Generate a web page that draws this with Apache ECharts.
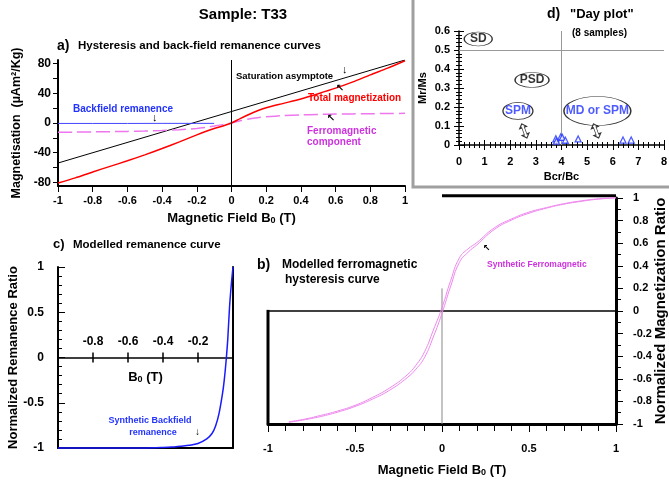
<!DOCTYPE html>
<html>
<head>
<meta charset="utf-8">
<script src="https://cdn.jsdelivr.net/npm/echarts@6/dist/echarts.min.js"></script>
<style>
html,body{margin:0;padding:0;background:#fff;}
#chart{width:669px;height:485px;}
</style>
</head>
<body>
<div id="chart"></div>
<script>
// ---- a) hysteresis + back-field (uAm2/Kg vs T)
var aField = [-1,-0.9,-0.8,-0.7,-0.6,-0.5,-0.4,-0.3,-0.2,-0.15,-0.1,-0.05,0,0.05,0.1,0.15,0.2,0.3,0.4,0.5,0.6,0.7,0.8,0.9,1];
var aTotal = [-81,-74,-66,-58.5,-51,-43,-34.5,-25.5,-16,-11.5,-7.5,-4,0,6,11.5,16.5,20.5,26.5,32.5,39.5,47,55.5,65,74,84];
var aFerro = [-12.5,-12.3,-12,-11.7,-11.3,-10.8,-10.1,-9.1,-7.3,-5.9,-4.2,-2.2,0,3,5.4,7.2,8.4,9.9,10.9,11.5,12,12.3,12.5,12.8,13];
var aAsymField = [-1, 1];
var aAsym = [-54, 85];
var aBackField = [-1,-0.8,-0.6,-0.4,-0.2,-0.1];
var aBack = [-0.6,-0.6,-0.6,-0.5,-0.5,-0.5];
var aYTicks = [-80,-60,-40,-20,0,20,40,60,80];
var aYLabels = [-80,-40,0,40,80];

// ---- d) Day plot
var dBcrBc = [3.78,3.8,3.97,4.03,4.15,4.65,6.4,6.72];
var dMrMs  = [0.033,0.02,0.042,0.04,0.025,0.032,0.026,0.026];
var dZones = ['SD','PSD','SPM','MD or SPM'];
var dZoneX = [0.75,2.85,2.3,5.4];
var dZoneY = [0.558,0.342,0.179,0.179];
var dArrowX = [2.55,5.35];
var dArrowY = [0.074,0.074];

// ---- c) modelled remanence
var cField = [-1,-0.8,-0.6,-0.5,-0.4,-0.35,-0.3,-0.25,-0.2,-0.15,-0.12,-0.1,-0.08,-0.06,-0.05,-0.04,-0.03,-0.02,-0.01,0];
var cRem   = [-1,-1,-1,-1,-0.995,-0.99,-0.98,-0.97,-0.95,-0.9,-0.84,-0.76,-0.62,-0.4,-0.25,-0.05,0.2,0.55,0.8,1];
var cXTicks = [-0.8,-0.6,-0.4,-0.2];

// ---- b) modelled ferromagnetic hysteresis
var bField = [-0.88,-0.8,-0.7,-0.6,-0.5,-0.4,-0.3,-0.2,-0.15,-0.1,-0.05,0,0.05,0.1,0.15,0.2,0.3,0.4,0.5,0.6,0.7,0.8,0.9,1];
var bLower = [-0.985,-0.965,-0.935,-0.895,-0.845,-0.78,-0.7,-0.59,-0.515,-0.41,-0.23,-0.02,0.22,0.43,0.52,0.585,0.72,0.805,0.865,0.91,0.945,0.97,0.99,1];
var bUpper = [-0.98,-0.96,-0.925,-0.885,-0.835,-0.765,-0.68,-0.565,-0.48,-0.36,-0.17,0.03,0.27,0.47,0.55,0.605,0.735,0.815,0.875,0.915,0.95,0.975,0.993,1.003];

var FONT = 'Liberation Sans, Arial, DejaVu Sans, sans-serif';
var MAG = '#cc33dd';

function pairs(xs, ys){ return xs.map(function(x,i){ return [x, ys[i]]; }); }
function txt(x, y, s, size, color, align){
  return {type:'text', x:x, y:y, silent:true, z:50,
    style:{text:s, fontSize:size, fontWeight:'bold', fontFamily:FONT, fill:color||'#000',
      align:align||'left', verticalAlign:'middle'}};
}
var lab = {fontSize:11, fontWeight:'bold', color:'#000', fontFamily:FONT};
var subRich = {sub:{fontSize:9, fontWeight:'bold', fontFamily:FONT, color:'#000', padding:[5,0,0,0]}};
function line(w){ return {show:true, onZero:false, lineStyle:{color:'#000', width:w}}; }
var off = {show:false};

// rotated name of the right axis in panel b (drawn as text so it can run off the edge)
var bYName = txt(661, 311, 'Normalized Magnetization Ratio', 15, '#000', 'center');
bYName.rotation = Math.PI / 2;

var myChart = echarts.init(document.getElementById('chart'));
myChart.setOption({
  animation:false,
  textStyle:{fontFamily:FONT},
  grid:[
    {left:58, top:60, width:347, height:126, outerBoundsMode:'none'},   // a
    {left:459, top:31, width:205, height:114, outerBoundsMode:'none'},  // d
    {left:58, top:267, width:175, height:181, outerBoundsMode:'none'},  // c
    {left:268, top:198, width:348, height:226, outerBoundsMode:'none'}  // b
  ],
  xAxis:[
    // 0: a
    {gridIndex:0, type:'value', min:-1, max:1, interval:0.2, position:'bottom',
     axisLine:line(2), axisTick:{show:true, length:6, lineStyle:{color:'#000'}},
     axisLabel:Object.assign({margin:9}, lab), splitLine:off,
     name:'Magnetic Field B{sub|0} (T)', nameLocation:'middle', nameGap:25,
     nameTextStyle:{fontSize:13, fontWeight:'bold', color:'#000', rich:subRich}},
    // 1: d (outside ticks + labels)
    {gridIndex:1, type:'value', min:0, max:8, interval:1, position:'bottom',
     axisLine:line(1.5), axisTick:{length:5, lineStyle:{color:'#000'}},
     minorTick:{show:true, splitNumber:5, length:3, lineStyle:{color:'#000'}},
     axisLabel:Object.assign({margin:11}, lab), splitLine:off, minorSplitLine:off,
     name:'Bcr/Bc', nameLocation:'middle', nameGap:26,
     nameTextStyle:{fontSize:11, fontWeight:'bold', color:'#000'}},
    // 2: d (inside ticks)
    {gridIndex:1, type:'value', min:0, max:8, interval:1, position:'bottom',
     axisLine:{show:false, onZero:false}, axisTick:{inside:true, length:5, lineStyle:{color:'#000'}},
     minorTick:{show:true, splitNumber:5, length:3, lineStyle:{color:'#000'}},
     axisLabel:off, splitLine:off},
    // 3: c (labels above the zero line) - top axis shifted down to y = 0
    {gridIndex:2, type:'value', min:-1, max:0, position:'top', offset:-90.5,
     axisLine:line(1.5),
     axisTick:{length:5, customValues:cXTicks, lineStyle:{color:'#000', width:1.5}},
     axisLabel:Object.assign({margin:10, customValues:cXTicks}, lab, {fontSize:12}),
     splitLine:off},
    // 4: c (ticks below the zero line) - bottom axis shifted up to y = 0
    {gridIndex:2, type:'value', min:-1, max:0, position:'bottom', offset:-90.5,
     axisLine:{show:false, onZero:false},
     axisTick:{length:5, customValues:cXTicks, lineStyle:{color:'#000', width:1.5}},
     axisLabel:off, splitLine:off,
     name:'B{sub|0} (T)', nameLocation:'middle', nameGap:13,
     nameTextStyle:{fontSize:13, fontWeight:'bold', color:'#000', rich:subRich}},
    // 5: c bottom frame
    {gridIndex:2, type:'value', min:-1, max:0, position:'bottom',
     axisLine:line(2), axisTick:off, axisLabel:off, splitLine:off},
    // 6: b
    {gridIndex:3, type:'value', min:-1, max:1, interval:0.5, position:'bottom',
     axisLine:line(3), axisTick:{length:8, lineStyle:{color:'#000'}},
     minorTick:{show:true, splitNumber:5, length:7, lineStyle:{color:'#000'}},
     axisLabel:Object.assign({margin:19}, lab), splitLine:off, minorSplitLine:off,
     name:'Magnetic Field B{sub|0} (T)', nameLocation:'middle', nameGap:39,
     nameTextStyle:{fontSize:13, fontWeight:'bold', color:'#000', rich:subRich}}
  ],
  yAxis:[
    // 0: a
    {gridIndex:0, type:'value', min:-85, max:85, position:'left',
     axisLine:line(2),
     axisTick:{length:5, customValues:aYTicks, lineStyle:{color:'#000'}},
     axisLabel:Object.assign({margin:7, customValues:aYLabels}, lab, {fontSize:12}),
     splitLine:off,
     name:'Magnetisation  (\u00b5Am\u00b2/Kg)', nameLocation:'middle', nameRotate:90, nameGap:26,
     nameTextStyle:{fontSize:12.5, fontWeight:'bold', color:'#000'}},
    // 1: d outside
    {gridIndex:1, type:'value', min:0, max:0.6, interval:0.1, position:'left',
     axisLine:line(1.5), axisTick:{length:5, lineStyle:{color:'#000'}},
     minorTick:{show:true, splitNumber:5, length:3, lineStyle:{color:'#000'}},
     axisLabel:Object.assign({margin:9}, lab), splitLine:off, minorSplitLine:off,
     name:'Mr/Ms', nameLocation:'middle', nameRotate:90, nameGap:31,
     nameTextStyle:{fontSize:11, fontWeight:'bold', color:'#000'}},
    // 2: d inside
    {gridIndex:1, type:'value', min:0, max:0.6, interval:0.1, position:'left',
     axisLine:{show:false, onZero:false}, axisTick:{inside:true, length:5, lineStyle:{color:'#000'}},
     minorTick:{show:true, splitNumber:5, length:3, lineStyle:{color:'#000'}},
     axisLabel:off, splitLine:off},
    // 3: c
    {gridIndex:2, type:'value', min:-1, max:1, interval:0.5, position:'left',
     axisLine:line(2), axisTick:{inside:true, length:7, lineStyle:{color:'#000'}},
     minorTick:{show:true, splitNumber:5, length:4, lineStyle:{color:'#000'}},
     axisLabel:Object.assign({margin:14}, lab, {fontSize:12}), splitLine:off, minorSplitLine:off,
     name:'Normalized Remanence Ratio', nameLocation:'middle', nameRotate:90, nameGap:34,
     nameTextStyle:{fontSize:13, fontWeight:'bold', color:'#000'}},
    // 4: c right frame
    {gridIndex:2, type:'value', min:-1, max:1, position:'right',
     axisLine:line(2), axisTick:off, axisLabel:off, splitLine:off},
    // 5: b (right)
    {gridIndex:3, type:'value', min:-1, max:1, interval:0.2, position:'right',
     axisLine:line(3), axisTick:{length:7, lineStyle:{color:'#000'}},
     minorTick:{show:true, splitNumber:2, length:5, lineStyle:{color:'#000'}},
     axisLabel:Object.assign({margin:17}, lab), splitLine:off, minorSplitLine:off}
  ],
  series:[
    // ---- a
    {type:'line', xAxisIndex:0, yAxisIndex:0, data:pairs(aAsymField, aAsym), symbol:'none',
     lineStyle:{color:'#000', width:1},
     markLine:{symbol:'none', silent:true, label:{show:false}, lineStyle:{color:'#000', width:1, type:'solid'},
       data:[{xAxis:0}]}},
    {type:'line', xAxisIndex:0, yAxisIndex:0, data:pairs(aBackField, aBack), symbol:'none',
     lineStyle:{color:'#4444ff', width:1}},
    {type:'line', xAxisIndex:0, yAxisIndex:0, data:pairs(aField, aFerro), symbol:'none', smooth:0.25,
     lineStyle:{color:'#ee77ee', width:1.5, type:[14,5]}},
    {type:'line', xAxisIndex:0, yAxisIndex:0, data:pairs(aField, aTotal), symbol:'none', smooth:0.25,
     lineStyle:{color:'#ff0000', width:1.5}},
    // ---- d
    {type:'scatter', xAxisIndex:1, yAxisIndex:1, data:pairs(dBcrBc, dMrMs), symbol:'triangle', symbolSize:6,
     itemStyle:{color:'#ffffff', borderColor:'#2233ff', borderWidth:1.3}, z:5,
     markLine:{symbol:'none', silent:true, label:{show:false}, lineStyle:{color:'#999', width:1, type:'solid'},
       data:[{yAxis:0.5},{xAxis:4}]}},
    {type:'scatter', xAxisIndex:1, yAxisIndex:1, silent:true, z:4,
     symbol:'path://M0,50 A50,50 0 1,1 100,50 A50,50 0 1,1 0,50 Z',
     itemStyle:{color:'#fff', borderColor:'#000', borderWidth:1},
     data:dZones.map(function(n,i){
       var sizes = [[28,14],[34,15],[30,17],[67,29]];
       var blue = i >= 2;
       return {name:n, value:[dZoneX[i], dZoneY[i]], symbolSize:sizes[i],
         label:{show:true, position:'inside', formatter:'{b}', fontSize:12, fontWeight:'bold',
           fontFamily:FONT, color:blue?'#2233ff':'#000'}};
     })},
    {type:'scatter', xAxisIndex:1, yAxisIndex:1, silent:true, z:4,
     symbol:'path://M4,0 L8,5 L5.5,5 L5.5,15 L8,15 L4,20 L0,15 L2.5,15 L2.5,5 L0,5 Z',
     symbolSize:[7,15], symbolRotate:20,
     itemStyle:{color:'#fff', borderColor:'#000', borderWidth:1},
     data:pairs(dArrowX, dArrowY)},
    // ---- c
    {type:'line', xAxisIndex:3, yAxisIndex:3, data:pairs(cField, cRem), symbol:'none', smooth:0.3,
     lineStyle:{color:'#1a1aff', width:1.5}, clip:false},
    // ---- b
    {type:'line', xAxisIndex:6, yAxisIndex:5, data:[[-1,0],[1,0]], symbol:'none', clip:false, silent:true,
     lineStyle:{color:'#000', width:1.5}},
    {type:'line', xAxisIndex:6, yAxisIndex:5, data:[[-1,0.01],[-1,-1]], symbol:'none', clip:false, silent:true,
     lineStyle:{color:'#000', width:3}},
    {type:'line', xAxisIndex:6, yAxisIndex:5, data:[[0,1.02],[1,1.02]], symbol:'none', clip:false, silent:true,
     lineStyle:{color:'#000', width:3}},
    {type:'line', xAxisIndex:6, yAxisIndex:5, data:[[0,0.2],[0,-1]], symbol:'none', clip:false, silent:true,
     lineStyle:{color:'#888', width:1}},
    {type:'line', xAxisIndex:6, yAxisIndex:5, data:pairs(bField, bLower), symbol:'none', smooth:true, clip:false,
     lineStyle:{color:'#ee88ee', width:1}},
    {type:'line', xAxisIndex:6, yAxisIndex:5, data:pairs(bField, bUpper), symbol:'none', smooth:true, clip:false,
     lineStyle:{color:'#ee88ee', width:1}}
  ],
  graphic:[
    bYName,
    {type:'polyline', silent:true, z:60, shape:{points:[[413,0],[413,187],[669,187]]},
     style:{stroke:'#a0a0a0', lineWidth:3, fill:null}},
    txt(243, 15, 'Sample: T33', 15, '#000', 'center'),
    txt(57, 46, 'a)', 14), txt(78, 46, 'Hysteresis and back-field remanence curves', 11.5),
    txt(236, 76, 'Saturation asymptote', 9.5),
    txt(342, 70, '\u2193', 11),
    txt(308, 98, 'Total magnetization', 10, '#ff0000'),
    txt(336, 88, '\u2196', 10),
    txt(73, 109, 'Backfield remanence', 10, '#2233ff'),
    txt(152, 118, '\u2193', 11),
    txt(307, 131, 'Ferromagnetic', 10, MAG),
    txt(307, 142, 'component', 10, MAG),
    txt(327, 118, '\u2196', 10),
    txt(547, 14, 'd)', 14), txt(570, 14, '"Day plot"', 13),
    txt(572, 33, '(8 samples)', 10),
    txt(53, 244, 'c)', 13), txt(73, 245, 'Modelled remanence curve', 11.5),
    txt(150, 421, 'Synthetic Backfield', 9, '#2233ff', 'center'),
    txt(153, 433, 'remanence', 9, '#2233ff', 'center'),
    txt(195, 432, '\u2193', 10),
    txt(257, 265, 'b)', 14), txt(282, 265, 'Modelled ferromagnetic', 12),
    txt(285, 280, 'hysteresis curve', 12),
    txt(487, 265, 'Synthetic Ferromagnetic', 8.5, MAG),
    txt(483, 249, '\u2196', 9)
  ]
});
</script>
</body>
</html>
